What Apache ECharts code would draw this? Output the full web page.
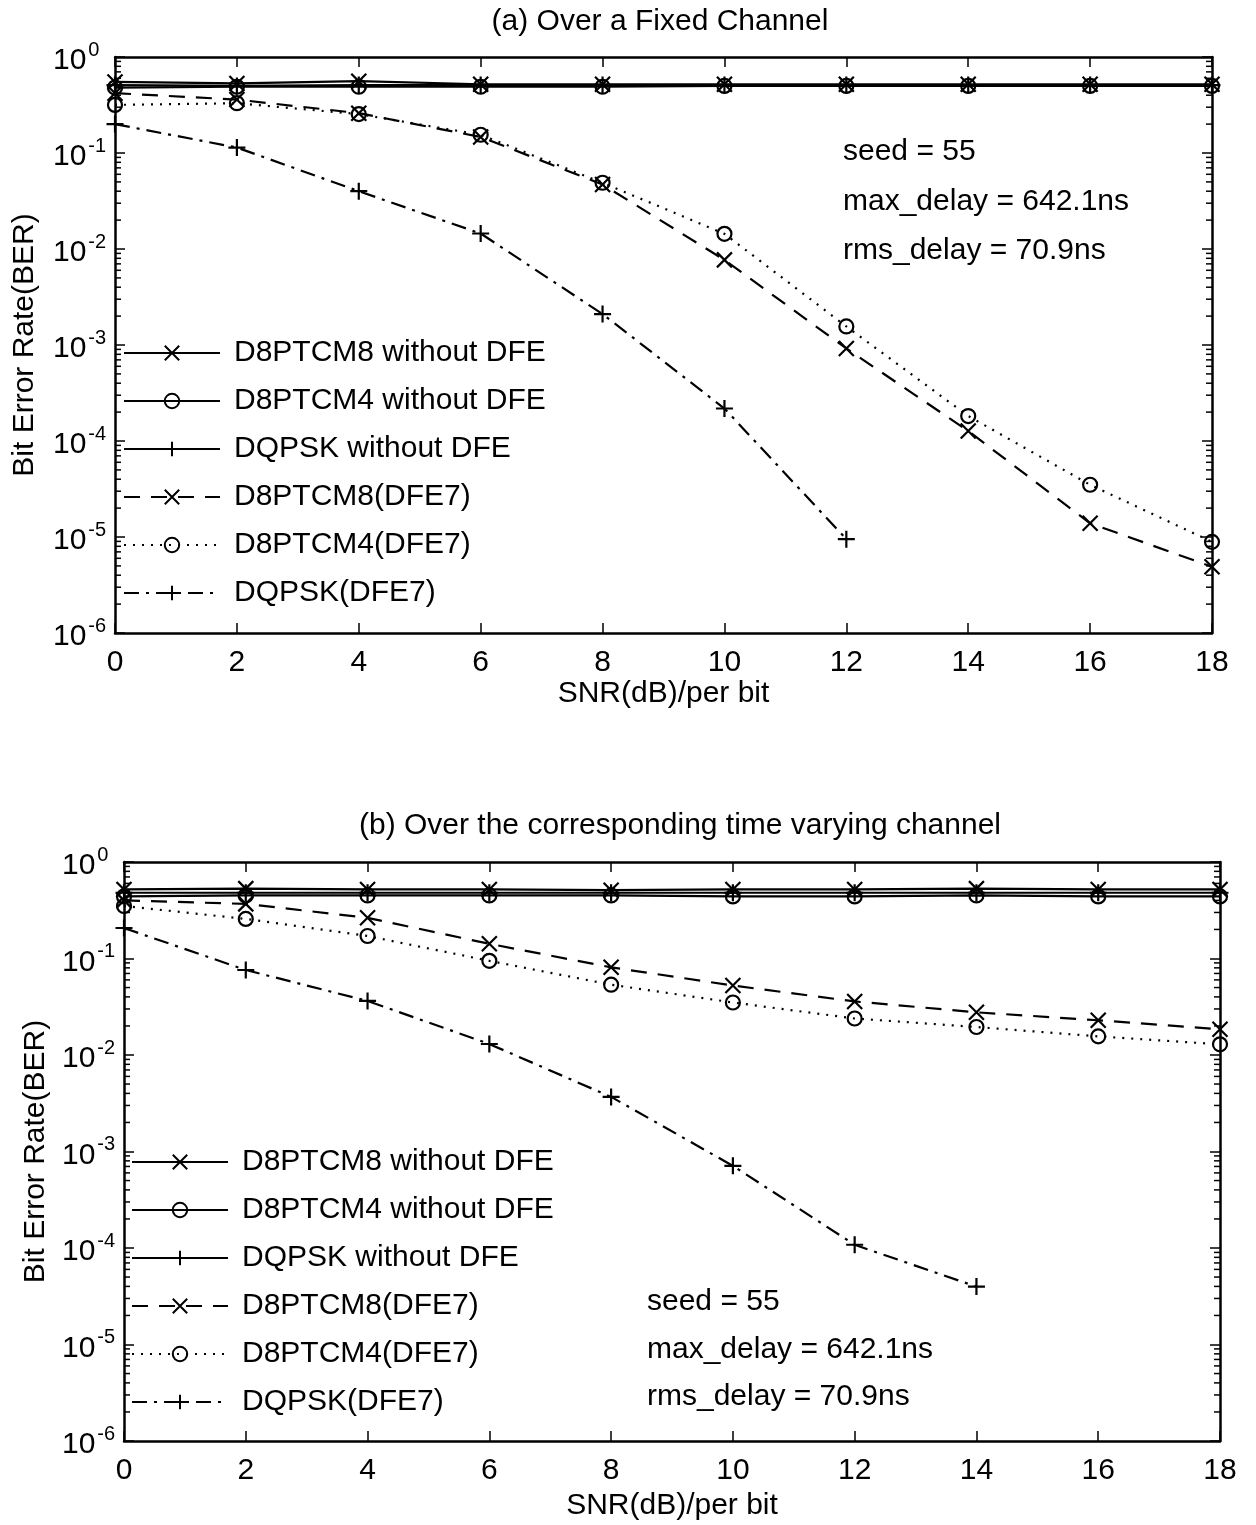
<!DOCTYPE html>
<html>
<head>
<meta charset="utf-8">
<title>BER vs SNR</title>
<script src="https://cdn.jsdelivr.net/npm/echarts@6/dist/echarts.min.js"></script>
<style>
  html, body { margin: 0; padding: 0; background: #fff; }
  #chart { width: 1256px; height: 1525px; }
</style>
</head>
<body>
<div id="chart"></div>
<script>
// SNR per bit (dB)
const snr = [0, 2, 4, 6, 8, 10, 12, 14, 16, 18];

// (a) Fixed channel
const aD8PTCM8 = [0.55, 0.53, 0.56, 0.52, 0.52, 0.52, 0.52, 0.52, 0.52, 0.52];
const aD8PTCM4 = [0.48, 0.49, 0.49, 0.49, 0.49, 0.50, 0.50, 0.50, 0.50, 0.50];
const aDQPSK = [0.51, 0.50, 0.51, 0.51, 0.51, 0.51, 0.51, 0.51, 0.51, 0.51];
const aD8PTCM8DFE = [0.42, 0.36, 0.26, 0.147, 0.047, 0.0077, 9.2e-4, 1.27e-4, 1.39e-5, 4.9e-6];
const aD8PTCM4DFE = [0.317, 0.33, 0.254, 0.155, 0.049, 0.0144, 1.56e-3, 1.82e-4, 3.5e-5, 8.9e-6];
const aDQPSKDFE = [0.20, 0.114, 0.040, 0.0145, 2.1e-3, 2.18e-4, 9.5e-6];

// (b) Time varying channel
const bD8PTCM8 = [0.52, 0.53, 0.52, 0.52, 0.51, 0.52, 0.52, 0.53, 0.52, 0.52];
const bD8PTCM4 = [0.44, 0.45, 0.45, 0.45, 0.45, 0.44, 0.44, 0.45, 0.44, 0.44];
const bDQPSK = [0.48, 0.48, 0.48, 0.48, 0.48, 0.48, 0.48, 0.48, 0.48, 0.48];
const bD8PTCM8DFE = [0.40, 0.368, 0.264, 0.142, 0.081, 0.0525, 0.0359, 0.0277, 0.0229, 0.0185];
const bD8PTCM4DFE = [0.35, 0.257, 0.171, 0.0946, 0.0535, 0.035, 0.0239, 0.0195, 0.0156, 0.0129];
const bDQPSKDFE = [0.207, 0.076, 0.0363, 0.013, 3.68e-3, 7.1e-4, 1.08e-4, 3.98e-5];

const seriesNames = [
  'D8PTCM8 without DFE', 'D8PTCM4 without DFE', 'DQPSK without DFE',
  'D8PTCM8(DFE7)', 'D8PTCM4(DFE7)', 'DQPSK(DFE7)'
];
const noteLines = ['seed = 55', 'max_delay = 642.1ns', 'rms_delay = 70.9ns'];
const minorDecades = [-6, -5, -4, -3, -2, -1];
const minorMultipliers = [2, 3, 4, 5, 6, 7, 8, 9];

const FONT = '"Liberation Sans", Arial, Helvetica, sans-serif';
const FS = 30;
const INK = '#000';

const SYM_X = 'path://M0,0L10,10M10,0L0,10';
const SYM_PLUS = 'path://M5,0L5,10M0,5L10,5';

const lineTypes = {
  solid: 'solid',
  dashed: [16, 11],
  dotted: [2, 7],
  dashdot: [15, 7, 3, 7]
};

const styles = [
  { symbol: SYM_X, size: 15, type: lineTypes.solid },
  { symbol: 'circle', size: 14, type: lineTypes.solid },
  { symbol: SYM_PLUS, size: 17, type: lineTypes.solid },
  { symbol: SYM_X, size: 15, type: lineTypes.dashed },
  { symbol: 'circle', size: 14, type: lineTypes.dotted },
  { symbol: SYM_PLUS, size: 17, type: lineTypes.dashdot }
];

function pairs(ys) {
  return ys.map((v, i) => [snr[i], v]);
}

function lineSeries(idx, gridIdx, values) {
  const s = styles[idx];
  return {
    type: 'line',
    name: seriesNames[idx],
    xAxisIndex: gridIdx * 2,
    yAxisIndex: gridIdx * 2,
    data: pairs(values),
    symbol: s.symbol,
    symbolSize: s.size,
    symbolKeepAspect: true,
    showAllSymbol: true,
    clip: false,
    lineStyle: { color: INK, width: 2.2, type: s.type },
    itemStyle: { color: 'rgba(0,0,0,0)', borderColor: INK, borderWidth: 2.2 },
    emphasis: { disabled: true },
    animation: false,
    z: 3
  };
}

// short inward minor ticks at 2..9 x 10^k on both vertical edges
function minorTickSeries(gridIdx) {
  return {
    type: 'custom',
    xAxisIndex: gridIdx * 2,
    yAxisIndex: gridIdx * 2,
    silent: true,
    clip: false,
    animation: false,
    data: minorDecades.map(d => [0, Math.pow(10, d)]),
    renderItem: function (params, api) {
      const base = api.value(1);
      const children = [];
      minorMultipliers.forEach(m => {
        const l = api.coord([0, base * m]);
        const r = api.coord([18, base * m]);
        children.push({ type: 'line', shape: { x1: l[0], y1: l[1], x2: l[0] + 6, y2: l[1] }, style: { stroke: INK, lineWidth: 1.5 } });
        children.push({ type: 'line', shape: { x1: r[0] - 6, y1: r[1], x2: r[0], y2: r[1] }, style: { stroke: INK, lineWidth: 1.5 } });
      });
      return { type: 'group', children: children };
    }
  };
}

function xAxes(gridIdx, nameGap) {
  const common = {
    type: 'value', gridIndex: gridIdx, min: 0, max: 18, interval: 2,
    axisLine: { show: true, onZero: false, lineStyle: { color: INK, width: 2.5 } },
    axisTick: { show: true, inside: true, length: 10, lineStyle: { color: INK, width: 1.5 } },
    splitLine: { show: false }
  };
  return [
    Object.assign({}, common, {
      position: 'bottom',
      axisLabel: { show: true, color: INK, fontSize: FS, fontFamily: FONT, margin: 15 },
      name: 'SNR(dB)/per bit', nameLocation: 'middle', nameGap: nameGap,
      nameTextStyle: { color: INK, fontSize: FS, fontFamily: FONT }
    }),
    Object.assign({}, common, { position: 'top', axisLabel: { show: false } })
  ];
}

function yAxes(gridIdx, labelMargin, nameGap) {
  const common = {
    type: 'log', logBase: 10, gridIndex: gridIdx, min: 1e-6, max: 1, splitNumber: 6,
    axisLine: { show: true, onZero: false, lineStyle: { color: INK, width: 2.5 } },
    axisTick: { show: true, inside: true, length: 10, lineStyle: { color: INK, width: 1.5 } },
    splitLine: { show: false },
    minorTick: { show: false }
  };
  return [
    Object.assign({}, common, {
      position: 'left',
      axisLabel: {
        show: true, color: INK, fontFamily: FONT, align: 'left', margin: labelMargin,
        formatter: v => '{b|10}{e|' + Math.round(Math.log10(v)) + '}',
        rich: {
          b: { fontSize: FS, fontFamily: FONT, color: INK, padding: [8, 0, 0, 0] },
          e: { fontSize: 20, fontFamily: FONT, color: INK, padding: [0, 0, 14, 2] }
        }
      },
      name: 'Bit Error Rate(BER)', nameLocation: 'middle', nameGap: nameGap, nameRotate: 90,
      nameTextStyle: { color: INK, fontSize: FS, fontFamily: FONT }
    }),
    Object.assign({}, common, { position: 'right', axisLabel: { show: false } })
  ];
}

function legend(left, top) {
  return {
    show: true,
    orient: 'vertical',
    left: left,
    top: top,
    itemWidth: 96,
    itemHeight: 18,
    itemGap: 18,
    selectedMode: false,
    data: seriesNames,
    textStyle: { color: INK, fontSize: FS, fontFamily: FONT, lineHeight: 30, padding: [0, 0, 0, 9] }
  };
}

function textEl(str, x, y, align) {
  return {
    type: 'text',
    x: x, y: y,
    style: {
      text: str, fill: INK, fontSize: FS, fontFamily: FONT,
      align: align || 'left', verticalAlign: 'middle'
    },
    silent: true
  };
}

const chart = echarts.init(document.getElementById('chart'), null, { renderer: 'canvas' });

const aSets = [aD8PTCM8, aD8PTCM4, aDQPSK, aD8PTCM8DFE, aD8PTCM4DFE, aDQPSKDFE];
const bSets = [bD8PTCM8, bD8PTCM4, bDQPSK, bD8PTCM8DFE, bD8PTCM4DFE, bDQPSKDFE];

const series = [];
aSets.forEach((vals, i) => series.push(lineSeries(i, 0, vals)));
bSets.forEach((vals, i) => series.push(lineSeries(i, 1, vals)));
series.push(minorTickSeries(0));
series.push(minorTickSeries(1));

const graphics = [
  textEl('(a) Over a Fixed Channel', 660, 22, 'center'),
  textEl('(b) Over the corresponding time varying channel', 680, 826, 'center')
];
noteLines.forEach((t, i) => graphics.push(textEl(t, 843, 152 + i * 49.5)));
noteLines.forEach((t, i) => graphics.push(textEl(t, 647, 1302 + i * 47.5)));

chart.setOption({
  backgroundColor: '#fff',
  animation: false,
  grid: [
    { left: 115, top: 57, width: 1097, height: 576, containLabel: false },
    { left: 124, top: 862, width: 1096, height: 579, containLabel: false }
  ],
  xAxis: xAxes(0, 45).concat(xAxes(1, 50)).map((ax, i) => Object.assign(ax, { gridIndex: i < 2 ? 0 : 1 })),
  yAxis: yAxes(0, 62, 75).concat(yAxes(1, 62, 70)).map((ax, i) => Object.assign(ax, { gridIndex: i < 2 ? 0 : 1 })),
  legend: [legend(118, 333), legend(126, 1142)],
  series: series,
  graphic: graphics
});
</script>
</body>
</html>
